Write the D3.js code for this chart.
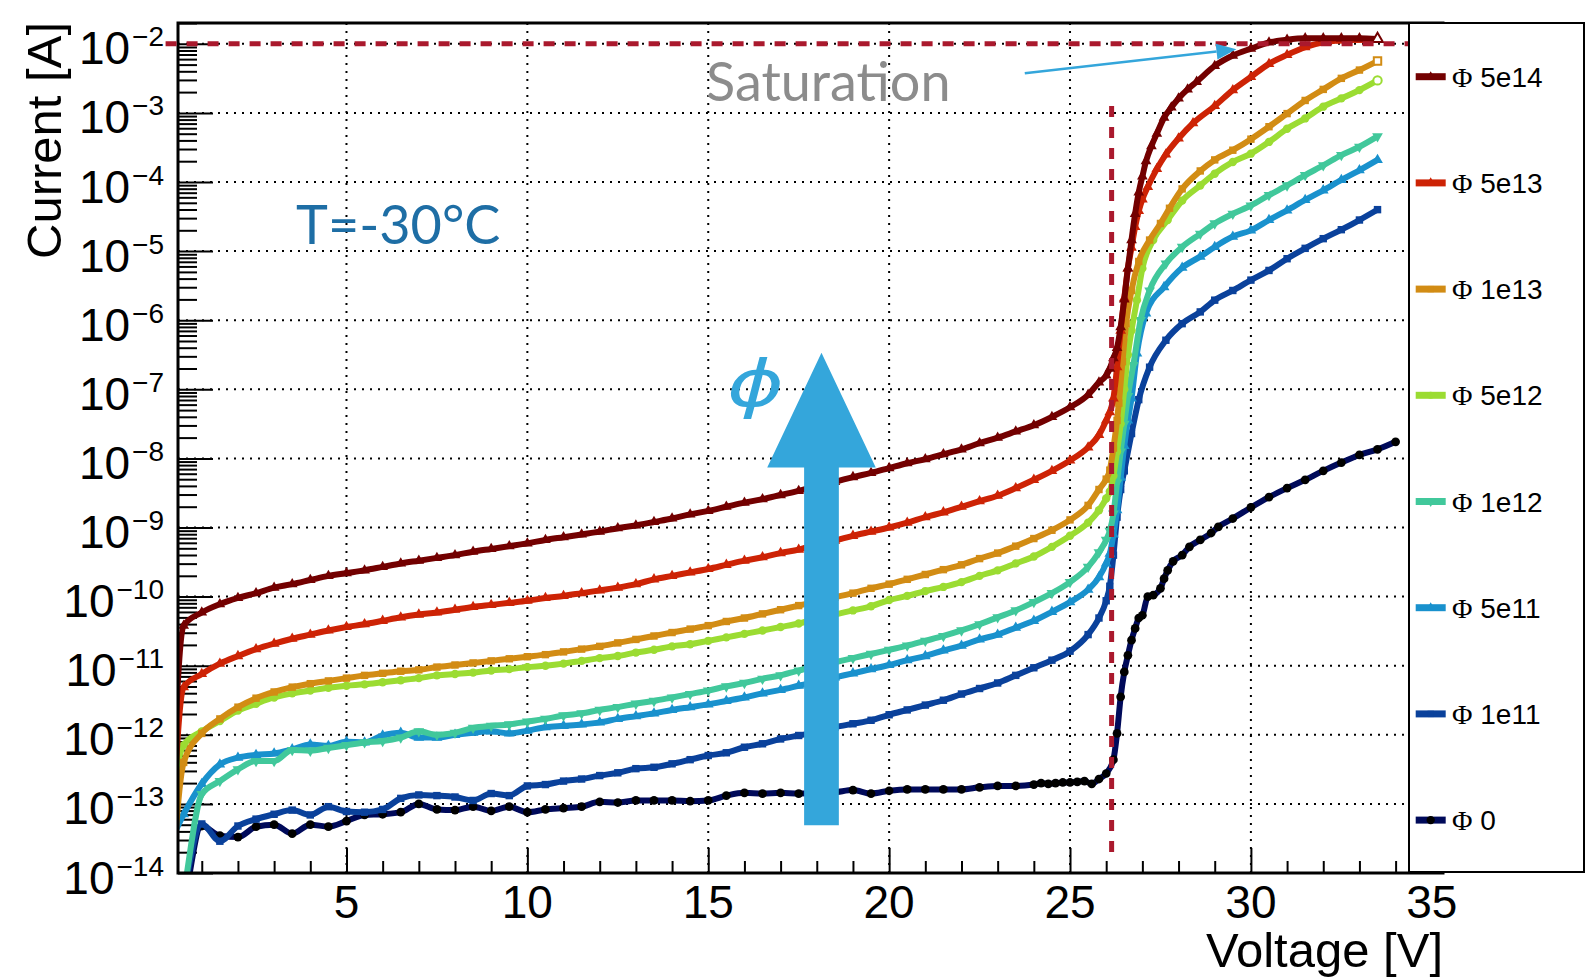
<!DOCTYPE html>
<html><head><meta charset="utf-8">
<script src="https://cdn.jsdelivr.net/npm/d3@7"></script>
<style>body{margin:0;background:#fff;} svg{display:block;}</style>
</head><body>
<svg id="chart" width="1588" height="980"></svg>
<script>
// ---------------- DATA (voltage [V], log10 of current [A]) ----------------
const seriesNames = ["5e14","5e13","1e13","5e12","1e12","5e11","1e11","0"];

const phi5e14 = [[0,-15.9],[0.5,-10.42],[1,-10.23],[1.5,-10.11],[2,-10.02],[2.5,-9.95],[3,-9.87],[3.5,-9.82],[4,-9.76],[4.5,-9.70],[5,-9.66],[5.5,-9.62],[6,-9.57],[6.5,-9.52],[7,-9.48],[7.5,-9.44],[8,-9.40],[8.5,-9.35],[9,-9.31],[9.5,-9.27],[10,-9.23],[10.5,-9.18],[11,-9.14],[11.5,-9.10],[12,-9.06],[12.5,-9.01],[13,-8.97],[13.5,-8.92],[14,-8.87],[14.5,-8.81],[15,-8.76],[15.5,-8.70],[16,-8.64],[16.5,-8.59],[17,-8.53],[17.5,-8.47],[18,-8.40],[18.5,-8.34],[19,-8.27],[19.5,-8.21],[20,-8.14],[20.5,-8.07],[21,-8.01],[21.5,-7.94],[22,-7.87],[22.5,-7.78],[23,-7.70],[23.5,-7.61],[24,-7.52],[24.5,-7.40],[25,-7.26],[25.5,-7.08],[25.8,-6.90],[26,-6.80],[26.1,-6.70],[26.2,-6.55],[26.3,-6.40],[26.4,-6.10],[26.5,-5.70],[26.6,-5.25],[26.7,-4.84],[26.8,-4.46],[26.9,-4.15],[27,-3.92],[27.1,-3.70],[27.25,-3.48],[27.4,-3.30],[27.6,-3.07],[27.8,-2.92],[28,-2.79],[28.25,-2.66],[28.5,-2.55],[29,-2.32],[29.5,-2.17],[30,-2.07],[30.5,-1.98],[31,-1.94],[31.5,-1.92],[32,-1.92],[32.5,-1.92],[33,-1.92],[33.5,-1.93]];

const phi5e13 = [[0,-15.9],[0.5,-11.31],[1,-11.12],[1.5,-10.97],[2,-10.86],[2.5,-10.76],[3,-10.68],[3.5,-10.61],[4,-10.55],[4.5,-10.49],[5,-10.44],[5.5,-10.40],[6,-10.35],[6.5,-10.30],[7,-10.26],[7.5,-10.23],[8,-10.19],[8.5,-10.15],[9,-10.12],[9.5,-10.09],[10,-10.06],[10.5,-10.02],[11,-9.99],[11.5,-9.95],[12,-9.91],[12.5,-9.87],[13,-9.82],[13.5,-9.75],[14,-9.70],[14.5,-9.65],[15,-9.60],[15.5,-9.54],[16,-9.48],[16.5,-9.43],[17,-9.37],[17.5,-9.32],[18,-9.25],[18.5,-9.19],[19,-9.12],[19.5,-9.06],[20,-9.00],[20.5,-8.93],[21,-8.85],[21.5,-8.78],[22,-8.70],[22.5,-8.62],[23,-8.54],[23.5,-8.43],[24,-8.31],[24.5,-8.18],[25,-8.03],[25.5,-7.84],[25.8,-7.66],[26,-7.45],[26.1,-7.33],[26.2,-7.13],[26.3,-6.68],[26.4,-6.15],[26.5,-5.68],[26.6,-5.25],[26.7,-4.95],[26.8,-4.65],[26.9,-4.42],[27,-4.25],[27.15,-4.07],[27.4,-3.81],[27.65,-3.60],[28,-3.37],[28.4,-3.15],[29,-2.90],[29.5,-2.67],[30,-2.48],[30.5,-2.29],[31,-2.16],[31.5,-2.05],[32,-1.98],[32.5,-1.95],[33,-1.94],[33.5,-1.94]];

const phi1e13 = [[0,-15.9],[0.5,-12.40],[1,-11.98],[1.5,-11.77],[2,-11.60],[2.5,-11.47],[3,-11.38],[3.5,-11.31],[4,-11.26],[4.5,-11.22],[5,-11.18],[5.5,-11.14],[6,-11.11],[6.5,-11.08],[7,-11.06],[7.5,-11.02],[8,-10.99],[8.5,-10.96],[9,-10.93],[9.5,-10.90],[10,-10.87],[10.5,-10.84],[11,-10.80],[11.5,-10.76],[12,-10.72],[12.5,-10.67],[13,-10.62],[13.5,-10.57],[14,-10.52],[14.5,-10.47],[15,-10.42],[15.5,-10.36],[16,-10.31],[16.5,-10.25],[17,-10.19],[17.5,-10.13],[18,-10.07],[18.5,-10.01],[19,-9.95],[19.5,-9.88],[20,-9.82],[20.5,-9.75],[21,-9.68],[21.5,-9.61],[22,-9.54],[22.5,-9.45],[23,-9.37],[23.5,-9.27],[24,-9.16],[24.5,-9.04],[25,-8.89],[25.5,-8.68],[25.8,-8.45],[26,-8.30],[26.1,-8.17],[26.2,-7.85],[26.3,-7.45],[26.35,-7.20],[26.45,-6.60],[26.55,-6.05],[26.7,-5.57],[26.9,-5.15],[27.2,-4.84],[27.5,-4.60],[27.75,-4.38],[28.1,-4.10],[28.6,-3.84],[29,-3.68],[29.5,-3.54],[30,-3.38],[30.5,-3.20],[31,-3.01],[31.5,-2.82],[32,-2.66],[32.5,-2.50],[33,-2.38],[33.5,-2.25]];

const phi5e12 = [[0,-13.5],[0.5,-12.15],[1,-11.95],[1.5,-11.80],[2,-11.65],[2.5,-11.55],[3,-11.46],[3.5,-11.40],[4,-11.36],[4.5,-11.32],[5,-11.29],[5.5,-11.27],[6,-11.24],[6.5,-11.21],[7,-11.18],[7.5,-11.14],[8,-11.12],[8.5,-11.10],[9,-11.07],[9.5,-11.05],[10,-11.02],[10.5,-11.00],[11,-10.97],[11.5,-10.93],[12,-10.89],[12.5,-10.86],[13,-10.81],[13.5,-10.77],[14,-10.72],[14.5,-10.69],[15,-10.64],[15.5,-10.59],[16,-10.54],[16.5,-10.49],[17,-10.44],[17.5,-10.39],[18,-10.32],[18.5,-10.26],[19,-10.20],[19.5,-10.14],[20,-10.05],[20.5,-9.99],[21,-9.92],[21.5,-9.86],[22,-9.79],[22.5,-9.70],[23,-9.62],[23.5,-9.52],[24,-9.42],[24.5,-9.28],[25,-9.12],[25.5,-8.93],[25.8,-8.75],[26,-8.58],[26.1,-8.48],[26.2,-8.25],[26.3,-7.90],[26.4,-7.50],[26.5,-7.00],[26.6,-6.50],[26.7,-6.15],[26.85,-5.71],[27,-5.25],[27.3,-4.84],[27.7,-4.55],[28.1,-4.27],[28.6,-4.05],[29,-3.88],[29.5,-3.71],[30,-3.59],[30.5,-3.42],[31,-3.23],[31.5,-3.08],[32,-2.91],[32.5,-2.79],[33,-2.67],[33.5,-2.53]];

const phi1e12 = [[0,-15.9],[0.5,-14.3],[1,-12.86],[1.5,-12.67],[2,-12.50],[2.5,-12.38],[3,-12.38],[3.5,-12.22],[4,-12.23],[4.5,-12.19],[5,-12.15],[5.5,-12.11],[6,-12.09],[6.5,-12.04],[7,-11.95],[7.5,-12.00],[8,-11.97],[8.5,-11.90],[9,-11.87],[9.5,-11.85],[10,-11.81],[10.5,-11.77],[11,-11.72],[11.5,-11.69],[12,-11.64],[12.5,-11.60],[13,-11.55],[13.5,-11.51],[14,-11.46],[14.5,-11.41],[15,-11.36],[15.5,-11.30],[16,-11.25],[16.5,-11.19],[17,-11.14],[17.5,-11.07],[18,-11.01],[18.5,-10.95],[19,-10.89],[19.5,-10.83],[20,-10.77],[20.5,-10.71],[21,-10.64],[21.5,-10.57],[22,-10.49],[22.5,-10.40],[23,-10.30],[23.5,-10.20],[24,-10.08],[24.5,-9.95],[25,-9.79],[25.5,-9.57],[25.8,-9.36],[26,-9.18],[26.1,-9.05],[26.2,-8.80],[26.3,-8.35],[26.4,-7.90],[26.5,-7.50],[26.6,-7.10],[26.75,-6.65],[26.95,-6.00],[27.2,-5.57],[27.65,-5.18],[28.1,-4.94],[28.6,-4.75],[29,-4.60],[29.5,-4.46],[30,-4.34],[30.5,-4.19],[31,-4.05],[31.5,-3.90],[32,-3.76],[32.5,-3.61],[33,-3.49],[33.5,-3.34]];

const phi5e11 = [[0,-13.7],[0.5,-13.15],[1,-12.71],[1.5,-12.43],[2,-12.33],[2.5,-12.29],[3,-12.27],[3.5,-12.21],[4,-12.14],[4.5,-12.16],[5,-12.10],[5.5,-12.11],[6,-12.01],[6.5,-11.97],[7,-12.04],[7.5,-12.04],[8,-12.00],[8.5,-11.97],[9,-11.95],[9.5,-11.98],[10,-11.94],[10.5,-11.89],[11,-11.87],[11.5,-11.85],[12,-11.82],[12.5,-11.77],[13,-11.73],[13.5,-11.69],[14,-11.64],[14.5,-11.60],[15,-11.56],[15.5,-11.51],[16,-11.46],[16.5,-11.40],[17,-11.35],[17.5,-11.29],[18,-11.23],[18.5,-11.17],[19,-11.11],[19.5,-11.05],[20,-10.99],[20.5,-10.92],[21,-10.86],[21.5,-10.78],[22,-10.71],[22.5,-10.62],[23,-10.55],[23.5,-10.45],[24,-10.35],[24.5,-10.22],[25,-10.08],[25.5,-9.90],[25.8,-9.72],[26,-9.52],[26.1,-9.38],[26.2,-9.10],[26.3,-8.75],[26.4,-8.28],[26.5,-7.82],[26.6,-7.45],[26.7,-7.13],[26.85,-6.48],[27.1,-5.90],[27.6,-5.52],[28.1,-5.24],[28.6,-5.08],[29,-4.94],[29.5,-4.79],[30,-4.70],[30.5,-4.55],[31,-4.41],[31.5,-4.26],[32,-4.12],[32.5,-3.97],[33,-3.83],[33.5,-3.68]];

const phi1e11 = [[0,-15.9],[0.5,-14.3],[1,-13.29],[1.5,-13.54],[2,-13.32],[2.5,-13.22],[3,-13.15],[3.5,-13.09],[4,-13.16],[4.5,-13.04],[5,-13.11],[5.5,-13.12],[6,-13.08],[6.5,-12.92],[7,-12.87],[7.5,-12.88],[8,-12.90],[8.5,-12.95],[9,-12.85],[9.5,-12.88],[10,-12.74],[10.5,-12.72],[11,-12.67],[11.5,-12.64],[12,-12.59],[12.5,-12.55],[13,-12.49],[13.5,-12.47],[14,-12.42],[14.5,-12.36],[15,-12.30],[15.5,-12.26],[16,-12.18],[16.5,-12.13],[17,-12.06],[17.5,-12.01],[18,-11.96],[18.5,-11.89],[19,-11.84],[19.5,-11.79],[20,-11.71],[20.5,-11.64],[21,-11.57],[21.5,-11.50],[22,-11.41],[22.5,-11.33],[23,-11.25],[23.5,-11.14],[24,-11.03],[24.5,-10.92],[25,-10.79],[25.5,-10.55],[25.8,-10.31],[26,-10.06],[26.1,-9.85],[26.2,-9.40],[26.3,-8.85],[26.4,-8.45],[26.5,-8.18],[26.7,-7.64],[26.9,-7.15],[27.2,-6.68],[27.65,-6.29],[28.1,-6.05],[28.6,-5.88],[29,-5.71],[29.5,-5.57],[30,-5.42],[30.5,-5.28],[31,-5.11],[31.5,-4.96],[32,-4.82],[32.5,-4.69],[33,-4.55],[33.5,-4.40]];

const phi0 = [[0,-15.9],[0.5,-14.5],[1,-13.32],[1.5,-13.46],[2,-13.48],[2.5,-13.33],[3,-13.30],[3.5,-13.43],[4,-13.30],[4.5,-13.33],[5,-13.25],[5.5,-13.16],[6,-13.15],[6.5,-13.12],[7,-13.00],[7.5,-13.08],[8,-13.09],[8.5,-13.04],[9,-13.10],[9.5,-13.04],[10,-13.12],[10.5,-13.08],[11,-13.06],[11.5,-13.04],[12,-12.97],[12.5,-12.98],[13,-12.95],[13.5,-12.95],[14,-12.95],[14.5,-12.96],[15,-12.95],[15.5,-12.88],[16,-12.84],[16.5,-12.85],[17,-12.84],[17.5,-12.85],[18,-12.84],[18.5,-12.83],[19,-12.80],[19.5,-12.85],[20,-12.81],[20.5,-12.79],[21,-12.79],[21.5,-12.79],[22,-12.79],[22.5,-12.76],[23,-12.74],[23.5,-12.74],[24,-12.72],[24.2,-12.70],[24.4,-12.71],[24.6,-12.70],[24.8,-12.69],[25,-12.69],[25.2,-12.68],[25.4,-12.67],[25.6,-12.71],[25.8,-12.64],[26,-12.56],[26.2,-12.36],[26.3,-11.98],[26.4,-11.45],[26.5,-11.09],[26.6,-10.85],[26.7,-10.63],[26.8,-10.46],[26.9,-10.31],[27,-10.27],[27.15,-10.00],[27.3,-9.98],[27.5,-9.88],[27.6,-9.74],[27.7,-9.62],[27.85,-9.49],[28.1,-9.40],[28.3,-9.28],[28.6,-9.18],[28.9,-9.08],[29.1,-8.99],[29.5,-8.87],[30,-8.71],[30.5,-8.56],[31,-8.43],[31.5,-8.31],[32,-8.18],[32.5,-8.06],[33,-7.95],[33.5,-7.87],[34,-7.76]];

const seriesData = [phi5e14, phi5e13, phi1e13, phi5e12, phi1e12, phi5e11, phi1e11, phi0];

const xTickMajor = [5,10,15,20,25,30,35];
const xTickLabels = ["5","10","15","20","25","30","35"];
const yDecadeExp = [-14,-13,-12,-11,-10,-9,-8,-7,-6,-5,-4,-3,-2];

// annotations (data units)
const saturationCurrent = 1e-2;
const breakdownVoltage = 26.15;

// ---------------- STYLE ----------------
const colors = ["#730000","#cd2305","#d28c14","#9bdc32","#41c89b","#1991cd","#0a419b","#000a5a"];
const markerFill = [null,null,null,null,null,null,null,"#000"];
const markerSym = ["tri","tri","sq","circ","tridown","tri","sq","circ"];
const openLast = [true,false,true,true,false,false,false,false];

const W = 1588, H = 980;
const L = 178, R = 1443, T = 23, B = 873;
const svg = d3.select("#chart");
const FONT = "'Liberation Sans', Arial, Helvetica, sans-serif";

const x = d3.scaleLinear().domain([0.343, 35.31]).range([L, R]);
const y = d3.scaleLog().domain([1e-14, 0.02]).range([B, T]);

svg.append("rect").attr("width",W).attr("height",H).attr("fill","#fff");

svg.append("defs").append("clipPath").attr("id","frameClip")
  .append("rect").attr("x",L).attr("y",T).attr("width",R-L).attr("height",B-T);

// grid
const grid = svg.append("g").attr("stroke","#000").attr("stroke-width",2).attr("stroke-dasharray","2,6");
[5,10,15,20,25,30].forEach(v=>{
  grid.append("line").attr("x1",x(v)).attr("x2",x(v)).attr("y1",B).attr("y2",T);
});
yDecadeExp.slice(1).forEach(e=>{
  grid.append("line").attr("x1",L).attr("x2",R).attr("y1",y(Math.pow(10,e))).attr("y2",y(Math.pow(10,e)));
});

// ticks
const xMinor = d3.range(1,36).filter(v=>v%5!==0 && v<=35.3);
svg.append("g").attr("transform",`translate(0,${B})`)
  .call(d3.axisBottom(x).tickValues(xMinor).tickSize(-12).tickFormat(""))
  .call(g=>{g.select(".domain").remove(); g.selectAll("line").attr("stroke","#000").attr("stroke-width",2);});
svg.append("g").attr("transform",`translate(0,${B})`)
  .call(d3.axisBottom(x).tickValues(xTickMajor).tickSize(-25).tickFormat(""))
  .call(g=>{g.select(".domain").remove(); g.selectAll("line").attr("stroke","#000").attr("stroke-width",2);});

const yMinor = [];
for (let e=-14; e<=-2; e++) for (let m=2; m<=9; m++) { const v=m*Math.pow(10,e); if (v<=0.02) yMinor.push(v); }
svg.append("g").attr("transform",`translate(${L},0)`)
  .call(d3.axisLeft(y).tickValues(yMinor).tickSize(-19).tickFormat(""))
  .call(g=>{g.select(".domain").remove(); g.selectAll("line").attr("stroke","#000").attr("stroke-width",2);});
svg.append("g").attr("transform",`translate(${L},0)`)
  .call(d3.axisLeft(y).tickValues(yDecadeExp.map(e=>Math.pow(10,e))).tickSize(-35).tickFormat(""))
  .call(g=>{g.select(".domain").remove(); g.selectAll("line").attr("stroke","#000").attr("stroke-width",2);});

// markers
function markerPath(kind, size){
  if (kind==="tri" || kind==="tridown") return d3.symbol().type(d3.symbolTriangle).size(size)();
  if (kind==="sq") return d3.symbol().type(d3.symbolSquare).size(size)();
  return d3.symbol().type(d3.symbolCircle).size(size)();
}

// curves (draw lowest fluence first)
const plot = svg.append("g").attr("clip-path","url(#frameClip)");
const line = d3.line().curve(d3.curveMonotoneX).x(d=>x(d[0])).y(d=>y(Math.pow(10,d[1])));
for (let i=seriesData.length-1; i>=0; i--){
  const d = seriesData[i];
  const g = plot.append("g");
  g.append("path").datum(d).attr("d",line).attr("fill","none")
    .attr("stroke",colors[i]).attr("stroke-width",6).attr("stroke-linejoin","round");
  const sz = markerSym[i]==="circ" ? (i===7?60:55) : (markerSym[i]==="sq"?55:50);
  g.selectAll("path.m").data(d.slice(1)).join("path").attr("class","m")
    .attr("d", markerPath(markerSym[i], sz))
    .attr("transform", p=>`translate(${x(p[0])},${y(Math.pow(10,p[1]))})${markerSym[i]==="tridown"?" rotate(180)":""}`)
    .attr("fill",(p,k)=> (openLast[i] && k===d.length-2) ? "#fff" : (markerFill[i]||colors[i]))
    .attr("stroke",(p,k)=> (openLast[i] && k===d.length-2) ? colors[i] : "none")
    .attr("stroke-width",2);
}

// frame
svg.append("rect").attr("x",L).attr("y",T).attr("width",R-L).attr("height",B-T)
  .attr("fill","none").attr("stroke","#000").attr("stroke-width",3);

// annotations: dashed lines
const red = "#aa192d";
svg.append("line").attr("x1",x(0)).attr("x2",1409)
  .attr("y1",y(saturationCurrent)).attr("y2",y(saturationCurrent))
  .attr("stroke",red).attr("stroke-width",5).attr("stroke-dasharray","11,10");
svg.append("line").attr("x1",x(breakdownVoltage)).attr("x2",x(breakdownVoltage))
  .attr("y1",y(Math.pow(10,-2.9))).attr("y2",y(Math.pow(10,-13.84)))
  .attr("stroke",red).attr("stroke-width",5).attr("stroke-dasharray","11,10");

// big arrow
const arrowBlue = "#34a6db";
const aV = 18.13, hs = 0.48, hh = 1.5;
const apexY = y(Math.pow(10,-6.47)), baseY = y(Math.pow(10,-8.13)), botY = y(Math.pow(10,-13.31));
svg.append("path").attr("fill",arrowBlue).attr("d",
  `M${x(aV)},${apexY} L${x(aV+hh)},${baseY} L${x(aV+hs)},${baseY} L${x(aV+hs)},${botY} L${x(aV-hs)},${botY} L${x(aV-hs)},${baseY} L${x(aV-hh)},${baseY} Z`);
svg.append("text").attr("transform","translate(727,406) scale(1.35,1)").attr("fill",arrowBlue)
  .attr("font-family","'DejaVu Sans', sans-serif").attr("font-style","italic").attr("font-size",64).text("\u03D5");

// small arrow to saturation
const s0 = [x(23.75), y(Math.pow(10,-2.427))], s1 = [x(29.6), y(Math.pow(10,-2.08))];
const ang = Math.atan2(s1[1]-s0[1], s1[0]-s0[0]);
const hl = 20, hw = 8;
const bx = s1[0]-hl*Math.cos(ang), by = s1[1]-hl*Math.sin(ang);
svg.append("line").attr("x1",s0[0]).attr("y1",s0[1]).attr("x2",bx).attr("y2",by)
  .attr("stroke",arrowBlue).attr("stroke-width",2.5);
svg.append("path").attr("fill",arrowBlue).attr("d",
  `M${s1[0]},${s1[1]} L${bx - hw*Math.sin(ang)},${by + hw*Math.cos(ang)} L${bx + hw*Math.sin(ang)},${by - hw*Math.cos(ang)} Z`);

svg.append("text").attr("x",706).attr("y",101).attr("fill","#8c8c8c")
  .attr("font-family","Lato, sans-serif").attr("font-size",54).text("Saturation");
svg.append("text").attr("x",296).attr("y",244).attr("fill","#1e6ea5")
  .attr("font-family","Lato, sans-serif").attr("font-size",54).text("T=-30°C");

// tick labels
xTickMajor.forEach((v,i)=>{
  svg.append("text").attr("x",x(v)).attr("y",918).attr("text-anchor","middle")
    .attr("font-family",FONT).attr("font-size",46).attr("fill","#000").text(xTickLabels[i]);
});
yDecadeExp.forEach(e=>{
  const t = svg.append("text").attr("x",164).attr("y",y(Math.pow(10,e))+20.5).attr("text-anchor","end")
    .attr("font-family",FONT).attr("font-size",46).attr("fill","#000");
  t.append("tspan").text("10");
  t.append("tspan").attr("dy",-18).attr("dx",2).attr("font-size",28).text("\u2212"+Math.abs(e));
});

// axis titles
svg.append("text").attr("x",R).attr("y",967).attr("text-anchor","end")
  .attr("font-family",FONT).attr("font-size",49).text("Voltage [V]");
svg.append("text").attr("transform",`translate(61,${T-1}) rotate(-90)`).attr("text-anchor","end")
  .attr("font-family",FONT).attr("font-size",49).text("Current [A]");

// legend
const lg = svg.append("g");
lg.append("rect").attr("x",1409).attr("y",T).attr("width",175).attr("height",849)
  .attr("fill","#fff").attr("stroke","#000").attr("stroke-width",2);
seriesNames.forEach((n,i)=>{
  const cy = 76.7 + i*106.2;
  lg.append("line").attr("x1",1415.7).attr("x2",1445.7).attr("y1",cy).attr("y2",cy)
    .attr("stroke",colors[i]).attr("stroke-width",7);
  lg.append("path").attr("d",markerPath(markerSym[i], i===7?55:40))
    .attr("transform",`translate(1430.7,${cy})${markerSym[i]==="tridown"?" rotate(180)":""}`)
    .attr("fill",markerFill[i]||colors[i]);
  const t = lg.append("text").attr("x",1452).attr("y",cy+10).attr("font-family",FONT).attr("font-size",28);
  t.append("tspan").attr("font-family","'Liberation Serif', 'Times New Roman', serif").text("\u03A6");
  t.append("tspan").text(" "+n);
});
</script>
</body></html>
